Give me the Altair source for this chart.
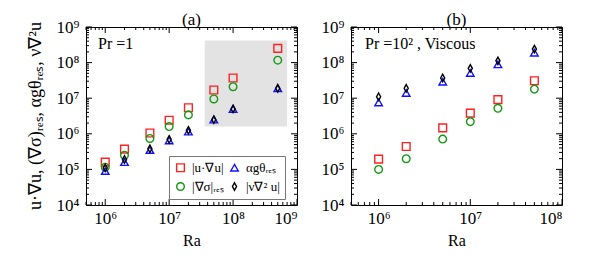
import altair as alt
import pandas as pd

FONT = "Liberation Serif"

terms = ["|u·∇u|", "|∇σ|ᵣₑₛ", "αgθᵣₑₛ", "|ν∇² u|"]
colors = ["#ff2020", "#119911", "#1010ff", "#000000"]
diamond = "M0,-1L0.55,0L0,1L-0.55,0Z"
shapes = ["square", "circle", "triangle-up", diamond]
sizes = [60, 55, 60, 115]
draw_order = [0, 1, 2, 3]

ytitle = "u·∇u, (∇σ)ᵣₑₛ, αgθᵣₑₛ, ν∇²u"

# Panel (a): Pr = 1
ra_a = [1e6, 2e6, 5e6, 1e7, 2e7, 5e7, 1e8, 5e8]
adv_a = [1.6e5, 3.7e5, 1.05e6, 2.4e6, 5.4e6, 1.7e7, 3.7e7, 2.5e8]
pres_a = [1.15e5, 2.5e5, 7.4e5, 1.6e6, 3.4e6, 9.5e6, 2.1e7, 1.17e8]
buoy_a = [9.0e4, 1.6e5, 3.5e5, 6.5e5, 1.15e6, 2.5e6, 5.0e6, 1.9e7]
visc_a = [1.1e5, 1.9e5, 3.8e5, 7.0e5, 1.25e6, 2.5e6, 5.0e6, 1.9e7]

# Panel (b): Pr = 10^2, viscous
ra_b = [1e6, 2e6, 5e6, 1e7, 2e7, 5e7]
adv_b = [1.95e5, 4.4e5, 1.47e6, 3.8e6, 9.1e6, 3.1e7]
pres_b = [1.0e5, 2.0e5, 7.1e5, 2.2e6, 5.2e6, 1.8e7]
buoy_b = [7.6e6, 1.4e7, 2.9e7, 5.1e7, 8.9e7, 1.9e8]
visc_b = [1.1e7, 1.9e7, 3.7e7, 6.9e7, 1.12e8, 2.4e8]

# shaded region in panel (a)
shade_x = [3.6e7, 7.0e8]
shade_y = [1.6e6, 4.2e8]

xdom_a = [5e5, 1e9]
xdom_b = [5e5, 1e8]
ydom = [1e4, 1e9]

W, H = 211, 178
SUP = "['⁰','¹','²','³','⁴','⁵','⁶','⁷','⁸','⁹'][round(log(datum.value)/LN10)]"


def long_df(ra, series):
    rows = []
    for i in draw_order:
        for r, v in zip(ra, series[i]):
            rows.append({"Ra": r, "val": v, "term": terms[i], "ord": draw_order.index(i)})
    return pd.DataFrame(rows)


def in_dom(v, dom):
    return dom[0] * 0.999 <= v <= dom[1] * 1.001


def panel(ra, series, xdom, title, note, show_legend, show_ytitle, shade=None):
    xs = alt.Scale(type="log", domain=xdom, nice=False)
    ys = alt.Scale(type="log", domain=ydom, nice=False)
    xmaj = [10.0 ** k for k in range(4, 10) if in_dom(10.0 ** k, xdom)]
    ymaj = [10.0 ** k for k in range(4, 10)]
    xaxis = alt.Axis(values=xmaj, labelExpr="'10' + " + SUP, ticks=False, domain=False,
                     grid=False, labelFont=FONT, labelFontSize=17, labelColor="black",
                     labelPadding=5, title="Ra", titleFont=FONT, titleFontSize=16,
                     titleFontWeight="normal", titleColor="black", titlePadding=6)
    yaxis = alt.Axis(values=ymaj, labelExpr="'10' + " + SUP, ticks=False, domain=False,
                     grid=False, labelFont=FONT, labelFontSize=17, labelColor="black",
                     labelPadding=7, title=None)
    lg = alt.Legend(title=None, orient="none", legendX=83, legendY=129, columns=2,
                    fillColor="white", strokeColor="#777777", padding=5,
                    labelFont=FONT, labelFontSize=13, labelColor="black",
                    symbolStrokeWidth=1.4, rowPadding=4, columnPadding=3,
                    labelOffset=5, cornerRadius=0) if show_legend else None

    layers = []
    if shade is not None:
        sdf = pd.DataFrame({"x1": [shade[0][0]], "x2": [shade[0][1]],
                            "y1": [shade[1][0]], "y2": [shade[1][1]]})
        layers.append(alt.Chart(sdf).mark_rect(color="#e3e3e3").encode(
            x=alt.X("x1:Q", scale=xs, axis=xaxis), x2="x2:Q",
            y=alt.Y("y1:Q", scale=ys, axis=yaxis), y2="y2:Q"))

    df = long_df(ra, series)
    enc = dict(
        x=alt.X("Ra:Q", scale=xs, axis=xaxis),
        y=alt.Y("val:Q", scale=ys, axis=yaxis),
        color=alt.Color("term:N", scale=alt.Scale(domain=terms, range=colors), legend=lg),
        shape=alt.Shape("term:N", scale=alt.Scale(domain=terms, range=shapes), legend=lg),
        size=alt.Size("term:N", scale=alt.Scale(domain=terms, range=sizes), legend=lg),
        order=alt.Order("ord:Q"),
    )
    layers.append(alt.Chart(df).mark_point(filled=False, strokeWidth=1.4, opacity=1).encode(**enc))

    # inward ticks (major and minor) on all four sides
    xt = []
    for k in range(4, 10):
        for m in range(1, 10):
            v = m * 10.0 ** k
            if in_dom(v, xdom):
                xt.append({"v": v, "L": 6 if m == 1 else 3})
    yt = []
    for k in range(4, 10):
        for m in range(1, 10):
            v = m * 10.0 ** k
            if in_dom(v, ydom):
                yt.append({"v": v, "L": 6 if m == 1 else 3})
    xtdf = pd.DataFrame(xt)
    ytdf = pd.DataFrame(yt)
    for L in (6, 3):
        xd = xtdf[xtdf.L == L]
        yd = ytdf[ytdf.L == L]
        base_x = alt.Chart(xd).mark_rule(color="black", strokeWidth=1)
        layers.append(base_x.encode(x=alt.X("v:Q", scale=xs, axis=xaxis),
                                    y=alt.value(H), y2=alt.value(H - L)))
        layers.append(base_x.encode(x=alt.X("v:Q", scale=xs, axis=xaxis),
                                    y=alt.value(0), y2=alt.value(L)))
        base_y = alt.Chart(yd).mark_rule(color="black", strokeWidth=1)
        layers.append(base_y.encode(y=alt.Y("v:Q", scale=ys, axis=yaxis),
                                    x=alt.value(0), x2=alt.value(L)))
        layers.append(base_y.encode(y=alt.Y("v:Q", scale=ys, axis=yaxis),
                                    x=alt.value(W), x2=alt.value(W - L)))

    ndf = pd.DataFrame({"t": [note[0]]})
    layers.append(alt.Chart(ndf).mark_text(align="left", baseline="middle", font=FONT,
                                           fontSize=16, color="black").encode(
        x=alt.value(note[1]), y=alt.value(note[2]), text="t:N"))

    if show_ytitle:
        tdf = pd.DataFrame({"t": [ytitle]})
        layers.append(alt.Chart(tdf).mark_text(align="center", baseline="middle", font=FONT,
                                               fontSize=18, angle=270, color="black").encode(
            x=alt.value(-50), y=alt.value(H / 2), text="t:N"))

    return alt.layer(*layers).properties(
        width=W, height=H,
        title=alt.TitleParams(title, font=FONT, fontSize=17, fontWeight="normal",
                              color="black", offset=-11))


pa = panel(ra_a, [adv_a, pres_a, buoy_a, visc_a], xdom_a, "(a)", ("Pr =1", 12, 17),
           True, True, shade=(shade_x, shade_y))
pb = panel(ra_b, [adv_b, pres_b, buoy_b, visc_b], xdom_b, "(b)",
           ("Pr =10² , Viscous", 14, 17), False, False)

chart = alt.hconcat(pa, pb, spacing=22).resolve_scale(
    color="independent", shape="independent", size="independent",
    x="independent", y="independent"
).properties(
    padding={"left": 18, "top": 2, "right": 5, "bottom": 5}
).configure_view(stroke="black", strokeWidth=1)

chart.save("out.html", embed_options={"renderer": "svg", "actions": False})
